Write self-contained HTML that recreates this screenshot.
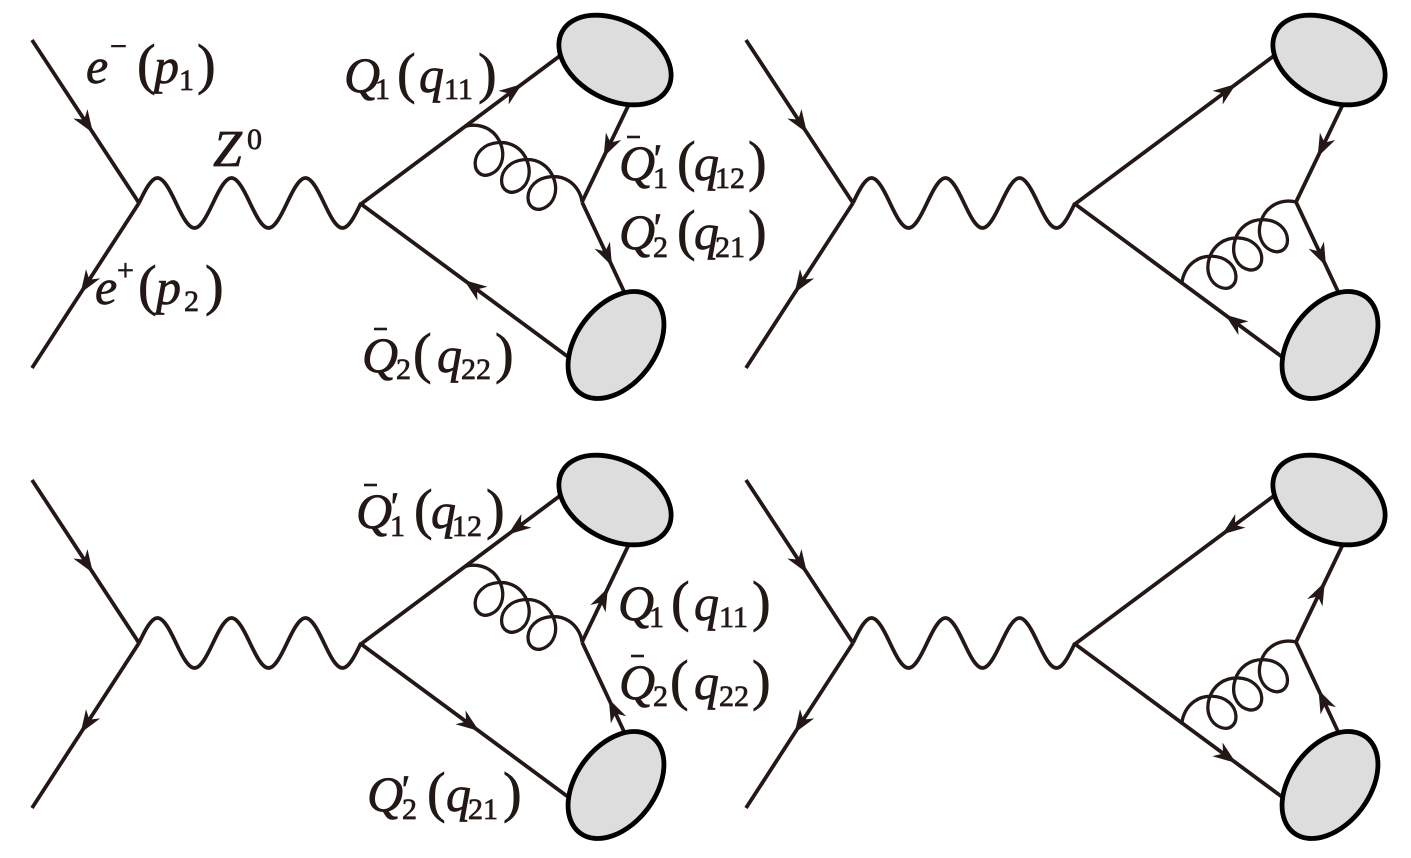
<!DOCTYPE html>
<html>
<head>
<meta charset="utf-8">
<style>
  html,body{margin:0;padding:0;background:#fff;}
  svg{display:block;}
</style>
</head>
<body>
<svg width="1411" height="858" viewBox="0 0 1411 858" xmlns="http://www.w3.org/2000/svg" xmlns:xlink="http://www.w3.org/1999/xlink">
<defs>
  <path id="ar" d="M0,0 L-23,-8.5 L-16,0 L-23,8.5 Z" fill="#231815"/>
  <path id="gl" fill="none" stroke="#231815" stroke-width="3.4" d="M0,0 C5.51,-6.35 14.56,-10.5 23.74,-10.5
    C37.51,-10.5 50.29,-0.5 53.07,10.5 C55.85,21.5 48.61,31.5 40.39,31.5 C32.17,31.5 24.94,21.5 27.72,10.5 C30.5,-0.5 43.27,-10.5 57.04,-10.5
    C70.81,-10.5 83.59,-0.5 86.37,10.5 C89.15,21.5 81.91,31.5 73.69,31.5 C65.47,31.5 58.24,21.5 61.02,10.5 C63.8,-0.5 76.57,-10.5 90.34,-10.5
    C104.11,-10.5 116.89,-0.5 119.67,10.5 C122.45,21.5 115.21,31.5 106.99,31.5 C98.77,31.5 91.54,21.5 94.32,10.5 C97.1,-0.5 109.87,-10.5 123.64,-10.5
    C132.82,-10.5 141.87,-6.35 147.38,0"/>
  <g id="base">
    <g fill="none" stroke="#231815" stroke-width="3.8">
      <line x1="32" y1="40" x2="139" y2="203"/>
      <line x1="139" y1="203" x2="32" y2="368"/>
      <path transform="translate(139,203)" d="M0,0
        c6.17,-13.1 12.33,-25 18.5,-25 c6.17,0 12.33,11.9 18.5,25 c6.17,13.1 12.33,25 18.5,25 c6.17,0 12.33,-11.9 18.5,-25
        c6.17,-13.1 12.33,-25 18.5,-25 c6.17,0 12.33,11.9 18.5,25 c6.17,13.1 12.33,25 18.5,25 c6.17,0 12.33,-11.9 18.5,-25
        c6.17,-13.1 12.33,-25 18.5,-25 c6.17,0 12.33,11.9 18.5,25 c6.17,13.1 12.33,25 18.5,25 c6.17,0 12.33,-11.9 18.5,-25"/>
      <line x1="361" y1="204" x2="566" y2="51.3"/>
      <line x1="361" y1="204" x2="575" y2="362"/>
      <line x1="631" y1="100" x2="582" y2="202"/>
      <line x1="582" y1="202" x2="628" y2="300"/>
    </g>
    <ellipse cx="615" cy="60" rx="60" ry="39.5" transform="rotate(28 615 60)" fill="#dddddd" stroke="#000" stroke-width="4.8"/>
    <ellipse cx="616" cy="345" rx="60" ry="39.5" transform="rotate(-53 616 345)" fill="#dddddd" stroke="#000" stroke-width="4.8"/>
    <use href="#ar" xlink:href="#ar" transform="translate(93,133) rotate(56.7)"/>
    <use href="#ar" xlink:href="#ar" transform="translate(80.6,293) rotate(123)"/>
  </g>
</defs>

<rect x="0" y="0" width="1411" height="858" fill="#fff"/>

<!-- Top-left -->
<g>
  <use href="#base" xlink:href="#base"/>
  <use href="#gl" xlink:href="#gl" transform="translate(465,126.5) rotate(32.8) scale(0.9445,1)"/>
  <use href="#ar" xlink:href="#ar" transform="translate(522,84) rotate(-36.7)"/>
  <use href="#ar" xlink:href="#ar" transform="translate(603.6,157) rotate(115.7)"/>
  <use href="#ar" xlink:href="#ar" transform="translate(612,266) rotate(64.9)"/>
  <use href="#ar" xlink:href="#ar" transform="translate(464,280) rotate(216.4)"/>
</g>

<!-- Top-right -->
<g transform="translate(714,0)">
  <use href="#base" xlink:href="#base"/>
  <use href="#gl" xlink:href="#gl" transform="translate(468,283) rotate(-35.4) scale(0.949,1)"/>
  <use href="#ar" xlink:href="#ar" transform="translate(522,84) rotate(-36.7)"/>
  <use href="#ar" xlink:href="#ar" transform="translate(603.6,157) rotate(115.7)"/>
  <use href="#ar" xlink:href="#ar" transform="translate(612,266) rotate(64.9)"/>
  <use href="#ar" xlink:href="#ar" transform="translate(511,314.6) rotate(216.4)"/>
</g>

<!-- Bottom-left -->
<g transform="translate(0,440)">
  <use href="#base" xlink:href="#base"/>
  <use href="#gl" xlink:href="#gl" transform="translate(465,126.5) rotate(32.8) scale(0.9445,1)"/>
  <use href="#ar" xlink:href="#ar" transform="translate(508,94.5) rotate(143.3)"/>
  <use href="#ar" xlink:href="#ar" transform="translate(607.9,148) rotate(-64.3)"/>
  <use href="#ar" xlink:href="#ar" transform="translate(608.8,259) rotate(-115.1)"/>
  <use href="#ar" xlink:href="#ar" transform="translate(479,291) rotate(36.4)"/>
</g>

<!-- Bottom-right -->
<g transform="translate(714,440)">
  <use href="#base" xlink:href="#base"/>
  <use href="#gl" xlink:href="#gl" transform="translate(468,283) rotate(-35.4) scale(0.949,1)"/>
  <use href="#ar" xlink:href="#ar" transform="translate(508,94.5) rotate(143.3)"/>
  <use href="#ar" xlink:href="#ar" transform="translate(610.8,142) rotate(-64.3)"/>
  <use href="#ar" xlink:href="#ar" transform="translate(604.5,250) rotate(-115.1)"/>
  <use href="#ar" xlink:href="#ar" transform="translate(522,323) rotate(36.4)"/>
</g>

<!-- Labels -->
<g font-family="Liberation Serif, DejaVu Serif, serif" fill="#231815" stroke="#231815" stroke-width="0.7">
<text font-size="50" font-style="italic"><tspan x="86" y="83">e</tspan><tspan font-style="normal" font-size="30" x="110" y="56">−</tspan><tspan font-style="normal" font-size="56" x="137" y="83">(</tspan><tspan x="154" y="83">p</tspan><tspan font-style="normal" font-size="30" x="179" y="90">1</tspan><tspan font-style="normal" font-size="56" x="197" y="83">)</tspan></text>

<text font-size="52" font-style="italic"><tspan x="213" y="166">Z</tspan><tspan font-style="normal" font-size="30" x="247" y="149">0</tspan></text>

<text font-size="50" font-style="italic"><tspan x="344" y="92">Q</tspan><tspan font-style="normal" font-size="30" x="375" y="99">1</tspan><tspan font-style="normal" font-size="56" x="397" y="92">(</tspan><tspan x="419" y="92">q</tspan><tspan font-style="normal" font-size="30" x="444" y="99">11</tspan><tspan font-style="normal" font-size="56" x="478" y="92">)</tspan></text>

<line x1="627" y1="137" x2="640" y2="137" stroke-width="2.6"/>
<text font-size="50" font-style="italic"><tspan x="619" y="180">Q</tspan><tspan font-size="40" x="651" y="172">'</tspan><tspan font-style="normal" font-size="30" x="653" y="188">1</tspan><tspan font-style="normal" font-size="56" x="677" y="180">(</tspan><tspan x="694" y="180">q</tspan><tspan font-style="normal" font-size="30" x="715" y="188">12</tspan><tspan font-style="normal" font-size="56" x="748" y="180">)</tspan></text>

<text font-size="50" font-style="italic"><tspan x="619" y="249">Q</tspan><tspan font-size="40" x="651" y="241">'</tspan><tspan font-style="normal" font-size="30" x="653" y="257">2</tspan><tspan font-style="normal" font-size="56" x="677" y="249">(</tspan><tspan x="694" y="249">q</tspan><tspan font-style="normal" font-size="30" x="715" y="257">21</tspan><tspan font-style="normal" font-size="56" x="748" y="249">)</tspan></text>

<text font-size="50" font-style="italic"><tspan x="95" y="304">e</tspan><tspan font-style="normal" font-size="30" x="117" y="280">+</tspan><tspan font-style="normal" font-size="56" x="138" y="304">(</tspan><tspan x="156" y="304">p</tspan><tspan font-style="normal" font-size="30" x="184" y="311">2</tspan><tspan font-style="normal" font-size="56" x="205" y="304">)</tspan></text>

<line x1="374" y1="329" x2="387" y2="329" stroke-width="2.6"/>
<text font-size="50" font-style="italic"><tspan x="362" y="372">Q</tspan><tspan font-style="normal" font-size="30" x="396" y="379">2</tspan><tspan font-style="normal" font-size="56" x="413" y="372">(</tspan><tspan x="437" y="372">q</tspan><tspan font-style="normal" font-size="30" x="461" y="379">22</tspan><tspan font-style="normal" font-size="56" x="495" y="372">)</tspan></text>

<line x1="364" y1="485" x2="377" y2="485" stroke-width="2.6"/>
<text font-size="50" font-style="italic"><tspan x="356" y="528">Q</tspan><tspan font-size="40" x="388" y="520">'</tspan><tspan font-style="normal" font-size="30" x="390" y="536">1</tspan><tspan font-style="normal" font-size="56" x="414" y="528">(</tspan><tspan x="431" y="528">q</tspan><tspan font-style="normal" font-size="30" x="452" y="536">12</tspan><tspan font-style="normal" font-size="56" x="486" y="528">)</tspan></text>

<text font-size="50" font-style="italic"><tspan x="618" y="620">Q</tspan><tspan font-style="normal" font-size="30" x="649" y="627">1</tspan><tspan font-style="normal" font-size="56" x="671" y="620">(</tspan><tspan x="694" y="620">q</tspan><tspan font-style="normal" font-size="30" x="719" y="627">11</tspan><tspan font-style="normal" font-size="56" x="752" y="620">)</tspan></text>

<line x1="631" y1="656" x2="644" y2="656" stroke-width="2.6"/>
<text font-size="50" font-style="italic"><tspan x="619" y="699">Q</tspan><tspan font-style="normal" font-size="30" x="653" y="706">2</tspan><tspan font-style="normal" font-size="56" x="670" y="699">(</tspan><tspan x="694" y="699">q</tspan><tspan font-style="normal" font-size="30" x="719" y="706">22</tspan><tspan font-style="normal" font-size="56" x="752" y="699">)</tspan></text>

<text font-size="50" font-style="italic"><tspan x="367" y="811">Q</tspan><tspan font-size="40" x="399" y="803">'</tspan><tspan font-style="normal" font-size="30" x="402" y="819">2</tspan><tspan font-style="normal" font-size="56" x="427" y="811">(</tspan><tspan x="446" y="811">q</tspan><tspan font-style="normal" font-size="30" x="468" y="819">21</tspan><tspan font-style="normal" font-size="56" x="503" y="811">)</tspan></text>
</g>

</svg>
</body>
</html>
